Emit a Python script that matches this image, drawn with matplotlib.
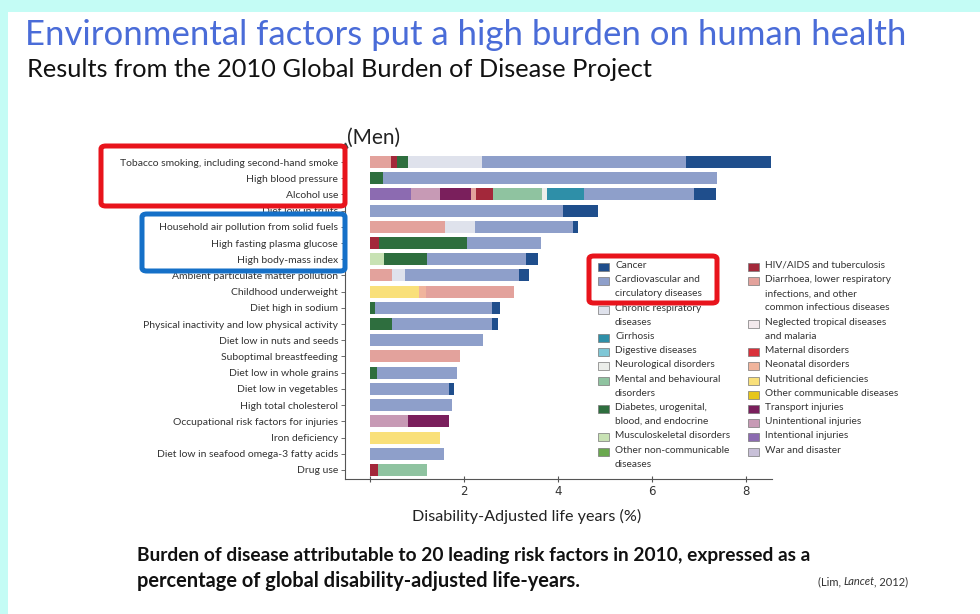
import matplotlib
matplotlib.use("Agg")
import matplotlib.pyplot as plt
from matplotlib.patches import Rectangle, FancyBboxPatch

# risk factors, top to bottom
factors = ["Tobacco smoking, including second-hand smoke", "High blood pressure", "Alcohol use",
           "Diet low in fruits", "Household air pollution from solid fuels", "High fasting plasma glucose",
           "High body-mass index", "Ambient particulate matter pollution", "Childhood underweight",
           "Diet high in sodium", "Physical inactivity and low physical activity", "Diet low in nuts and seeds",
           "Suboptimal breastfeeding", "Diet low in whole grains", "Diet low in vegetables",
           "High total cholesterol", "Occupational risk factors for injuries", "Iron deficiency",
           "Diet low in seafood omega-3 fatty acids", "Drug use"]

# % of DALYs (men) by cause, one value per risk factor
intentional   = [0, 0, 0.87, 0, 0, 0, 0, 0, 0, 0, 0, 0, 0, 0, 0, 0, 0, 0, 0, 0]
unintentional = [0, 0, 0.62, 0, 0, 0, 0, 0, 0, 0, 0, 0, 0, 0, 0, 0, 0.81, 0, 0, 0]
transport     = [0, 0, 0.66, 0, 0, 0, 0, 0, 0, 0, 0, 0, 0, 0, 0, 0, 0.87, 0, 0, 0]
nutritional   = [0, 0, 0, 0, 0, 0, 0, 0, 1.05, 0, 0, 0, 0, 0, 0, 0, 0, 1.49, 0, 0]
neonatal      = [0, 0, 0, 0, 0, 0, 0, 0, 0.14, 0, 0, 0, 0, 0, 0, 0, 0, 0, 0, 0]
diarrhoea_lri = [0.44, 0, 0.11, 0, 1.60, 0, 0, 0.47, 1.87, 0, 0, 0, 1.91, 0, 0, 0, 0, 0, 0, 0]
hiv_tb        = [0.13, 0, 0.36, 0, 0, 0.20, 0, 0, 0, 0, 0, 0, 0, 0, 0, 0, 0, 0, 0, 0.18]
musculo       = [0, 0, 0, 0, 0, 0, 0.30, 0, 0, 0, 0, 0, 0, 0, 0, 0, 0, 0, 0, 0]
diabetes      = [0.25, 0.28, 0, 0, 0, 1.86, 0.91, 0, 0, 0.11, 0.48, 0, 0, 0.14, 0, 0, 0, 0, 0, 0]
mental        = [0, 0, 1.04, 0, 0, 0, 0, 0, 0, 0, 0, 0, 0, 0, 0, 0, 0, 0, 0, 1.04]
neuro         = [0, 0, 0.11, 0, 0, 0, 0, 0, 0, 0, 0, 0, 0, 0, 0, 0, 0, 0, 0, 0]
chronic_resp  = [1.56, 0, 0, 0, 0.64, 0, 0, 0.27, 0, 0, 0, 0, 0, 0, 0, 0, 0, 0, 0, 0]
cirrhosis     = [0, 0, 0.79, 0, 0, 0, 0, 0, 0, 0, 0, 0, 0, 0, 0, 0, 0, 0, 0, 0]
cardio        = [4.35, 7.09, 2.33, 4.11, 2.08, 1.58, 2.11, 2.42, 0, 2.48, 2.11, 2.41, 0, 1.71, 1.69, 1.74, 0, 0, 1.57, 0]
cancer        = [1.80, 0, 0.46, 0.73, 0.10, 0, 0.25, 0.22, 0, 0.18, 0.14, 0, 0, 0, 0.10, 0, 0, 0, 0, 0]

xticks = [0, 2, 4, 6, 8]
xticklabels = ["", "2", "4", "6", "8"]

# legend entries: (label, colour)
legend_left = [("Cancer", "#1f4e8c"),
               ("Cardiovascular and\ncirculatory diseases", "#8e9fca"),
               ("Chronic respiratory\ndiseases", "#dfe2ec"),
               ("Cirrhosis", "#2e8fa8"),
               ("Digestive diseases", "#7fc7d6"),
               ("Neurological disorders", "#eceeea"),
               ("Mental and behavioural\ndisorders", "#8fc3a0"),
               ("Diabetes, urogenital,\nblood, and endocrine", "#2e6e3e"),
               ("Musculoskeletal disorders", "#c8e2b4"),
               ("Other non-communicable\ndiseases", "#6aa84f")]
legend_right = [("HIV/AIDS and tuberculosis", "#a3283a"),
                ("Diarrhoea, lower respiratory\ninfections, and other\ncommon infectious diseases", "#e3a29c"),
                ("Neglected tropical diseases\nand malaria", "#f3e9ec"),
                ("Maternal disorders", "#d9303a"),
                ("Neonatal disorders", "#f0b49c"),
                ("Nutritional deficiencies", "#f9e07a"),
                ("Other communicable diseases", "#e6c619"),
                ("Transport injuries", "#7a1f5c"),
                ("Unintentional injuries", "#c79ab5"),
                ("Intentional injuries", "#8c6bb1"),
                ("War and disaster", "#c8c0d8")]

colours = dict(legend_left + legend_right)
stack = [(intentional, "Intentional injuries"), (unintentional, "Unintentional injuries"),
         (transport, "Transport injuries"), (nutritional, "Nutritional deficiencies"),
         (neonatal, "Neonatal disorders"),
         (diarrhoea_lri, "Diarrhoea, lower respiratory\ninfections, and other\ncommon infectious diseases"),
         (hiv_tb, "HIV/AIDS and tuberculosis"), (musculo, "Musculoskeletal disorders"),
         (diabetes, "Diabetes, urogenital,\nblood, and endocrine"),
         (mental, "Mental and behavioural\ndisorders"), (neuro, "Neurological disorders"),
         (chronic_resp, "Chronic respiratory\ndiseases"), (cirrhosis, "Cirrhosis"),
         (cardio, "Cardiovascular and\ncirculatory diseases"), (cancer, "Cancer")]

W, H = 980, 614
fig = plt.figure(figsize=(9.8, 6.14), dpi=100)
fig.patch.set_facecolor("#c4fcf5")


def fx(px):
    return px / W


def fy(py):
    return 1 - py / H


fig.add_artist(Rectangle((fx(8), 0), 1 - fx(8), fy(12), transform=fig.transFigure,
                         facecolor="white", edgecolor="none", zorder=-5))

ax = fig.add_axes([fx(345), fy(479), fx(772) - fx(345), (479 - 145) / H])
ax.set_facecolor("none")

ypos = list(range(len(factors)))
left = [0.0] * len(factors)
for vals, name in stack:
    ax.barh(ypos, vals, left=left, height=0.74, color=colours[name], edgecolor="none")
    left = [a + b for a, b in zip(left, vals)]

ax.set_xlim(-0.53, 8.55)
ax.set_ylim(19.56, -1.05)
ax.set_yticks(ypos)
ax.set_yticklabels(factors, fontsize=7.5, color="#333333", family=["Lato", "DejaVu Sans"])
ax.set_xticks(xticks)
ax.set_xticklabels(xticklabels, fontsize=8.5, color="#333333")
ax.tick_params(axis="y", length=3, width=0.6, color="#555555", pad=2)
ax.tick_params(axis="x", length=5, width=0.8, direction="inout", color="#555555", pad=2)
for s in ["top", "right"]:
    ax.spines[s].set_visible(False)
for s in ["left", "bottom"]:
    ax.spines[s].set_color("#555555")
    ax.spines[s].set_linewidth(0.8)
ax.plot([0], [1], marker="^", ms=3.5, color="#444444", transform=ax.transAxes, clip_on=False)

renderer = fig.canvas.get_renderer()


def fit_text(x, y, s, width, **kw):
    t = fig.text(fx(x), fy(y), s, va="baseline", **kw)
    w = t.get_window_extent(renderer).width
    t.set_fontsize(t.get_fontsize() * width / w)
    return t


fit_text(25, 45, "Environmental factors put a high burden on human health", 880,
         color="#4a6cd8", family="Lato", fontsize=30)
fit_text(27, 77, "Results from the 2010 Global Burden of Disease Project", 628,
         color="#111111", family="Lato", fontsize=16)
fit_text(347, 144, "(Men)", 53, color="#222222", family="Lato", fontsize=11)
fit_text(412, 521, "Disability-Adjusted life years (%)", 228, color="#222222",
         family="Lato", fontsize=12)
fit_text(137, 561, "Burden of disease attributable to 20 leading risk factors in 2010, expressed as a", 668,
         color="#111111", family="Lato", fontweight="bold", fontsize=12)
fit_text(137, 587, "percentage of global disability-adjusted life-years.", 440,
         color="#111111", family="Lato", fontweight="bold", fontsize=12)

# citation with italic journal name
cite_fs = 8.0
c1 = fig.text(fx(818), fy(585), "(Lim, ", fontsize=cite_fs, color="#333333", family="Lato", va="baseline")
b1 = c1.get_window_extent(renderer)
c2 = fig.text(b1.x1 / W, fy(585), "Lancet", fontsize=cite_fs, color="#333333", family="Lato",
              style="italic", va="baseline")
b2 = c2.get_window_extent(renderer)
fig.text((b2.x1 - 1) / W, fy(585), ", 2012)", fontsize=cite_fs, color="#333333",
         family="Lato", va="baseline")

# legend drawn as two columns of patches and labels
pitch = 14.2
for entries, px_patch in [(legend_left, 598), (legend_right, 748)]:
    line = 0
    for label, col in entries:
        yc = 267 + line * pitch
        fig.add_artist(Rectangle((fx(px_patch), fy(yc + 4)), 11 / W, 8 / H, transform=fig.transFigure,
                                 facecolor=col, edgecolor="#777777", linewidth=0.5))
        fig.text(fx(px_patch + 17), fy(yc - 6), label, fontsize=7.3, color="#333333",
                 family="Lato", va="top", linespacing=1.72)
        line += label.count("\n") + 1


def box(x0, y0, x1, y1, col):
    fig.add_artist(FancyBboxPatch((fx(x0), fy(y1)), fx(x1) - fx(x0), (y1 - y0) / H,
                                  boxstyle="round,pad=0,rounding_size=0.005",
                                  transform=fig.transFigure, facecolor="none",
                                  edgecolor=col, linewidth=3.6, zorder=10))


box(101, 146, 345, 206, "#e8141c")
box(142, 214, 345, 271, "#1570c8")
box(589, 256, 717, 303, "#e8141c")

fig.savefig("out.png", dpi=100, facecolor=fig.get_facecolor())
